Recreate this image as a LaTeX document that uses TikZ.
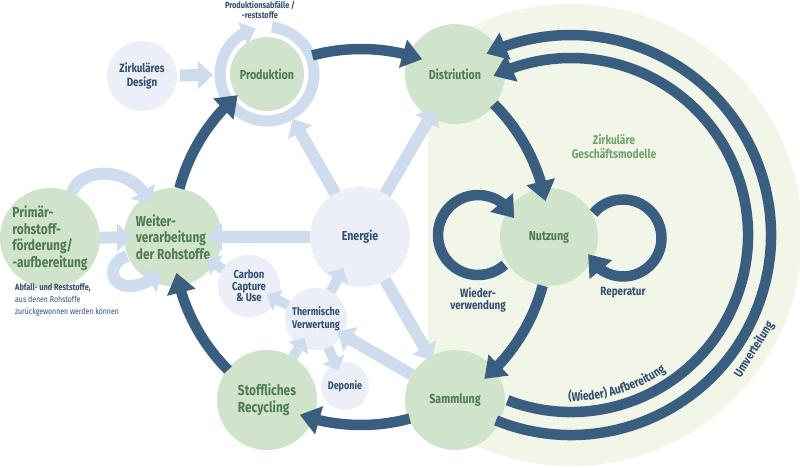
\documentclass[tikz,border=0pt]{standalone}
\usepackage{fontspec}
\setmainfont{Fira Sans}[FakeStretch=0.82]
\usetikzlibrary{arrows.meta,bending,calc,decorations.text}
\definecolor{darkarr}{HTML}{3A5E80}
\definecolor{tdark}{HTML}{2F4E6F}
\definecolor{gfill}{HTML}{CFE4CB}
\definecolor{gtext}{HTML}{4D7A4F}
\definecolor{glight}{HTML}{6FA46C}
\definecolor{lav}{HTML}{ECEFF7}
\definecolor{lblue}{HTML}{CDDDEE}
\definecolor{bgpale}{HTML}{F2F6E8}
\newcommand{\fsz}[2]{\bfseries\fontsize{#1}{#2}\selectfont}
\tikzset{
  gnode/.style={circle, fill=gfill, inner sep=0pt, text=gtext},
  lnode/.style={circle, fill=lav, inner sep=0pt, text=tdark},
  darr/.style={draw=darkarr, line width=10.5pt, -{Triangle[width=28pt,length=20pt]}},
  larr/.style={draw=lblue, line width=12pt, -{Triangle[width=27pt,length=15pt]}},
  larrs/.style={draw=lblue, line width=10pt, -{Triangle[width=23pt,length=12pt]}},
  lbl/.style={inner sep=0pt, text=tdark},
}
\begin{document}
\begin{tikzpicture}[x=1pt,y=1pt]
\useasboundingbox (0,0) rectangle (800,467);
\fill[white] (0,0) rectangle (800,467);
\coordinate (C) at (361,230);
\coordinate (O) at (571,232);
% pale background region
\begin{scope}
  \clip (428,0) rectangle (800,467);
  \fill[bgpale] (O) circle[radius=231];
\end{scope}
% nodes
\node[gnode, minimum size=74pt, font=\fsz{13}{15}] (Prod) at (267,393) {Produktion};
\node[gnode, minimum size=100pt, font=\fsz{13}{15}] (Dist) at (455,393) {Distriution};
\node[gnode, minimum size=98pt, font=\fsz{13}{15}] (Nutz) at (549,230) {Nutzung};
\node[gnode, minimum size=100pt, font=\fsz{13}{15}] (Samm) at (455,67) {Sammlung};
\node[gnode, minimum size=100pt, font=\fsz{14.5}{17}, align=left] (Recy) at (267,67) {Stoffliches\\Recycling};
\node[gnode, minimum size=98pt, font=\fsz{14.5}{16.5}, align=left] (Weit) at (173,230) {Weiter-\\verarbeitung\\der Rohstoffe};
\node[gnode, minimum size=100pt, font=\fsz{14.5}{16.5}, align=left] (Prim) at (50,229) {Primär-\\rohstoff-\\förderung/\\-aufbereitung};
\node[lnode, minimum size=100pt, font=\fsz{13}{15}] (Ener) at (360,230) {Energie};
\node[lnode, minimum size=62pt, font=\fsz{11.5}{11.5}, align=center] (CCU) at (249,181) {Carbon\\Capture\\\& Use};
\node[lnode, minimum size=62pt, font=\fsz{11}{13}, align=center] (Therm) at (316,148) {Thermische\\Verwertung};
\node[lnode, minimum size=48pt, font=\fsz{11}{13}] (Depo) at (345,81) {Deponie};
\node[lnode, minimum size=70pt, font=\fsz{12}{14}, align=center] (Design) at (142,391) {Zirkuläres\\Design};
% light arrows
\draw[larr] ($(Design)!38pt!(Prod)$) -- ($(Prod)!54pt!(Design)$);
\draw[draw=lblue, line width=11pt, -{Triangle[width=24pt,length=14pt]}] ([shift={(84:47)}]Prod.center) arc[start angle=84, end angle=-256, radius=47];
\draw[larr] ($(Ener)!50pt!(Prod)$) -- ($(Prod)!52pt!(Ener)$);
\draw[larr] ($(Ener)!50pt!(Dist)$) -- ($(Dist)!40pt!(Ener)$);
\draw[larr] ($(Ener)!50pt!(Weit)$) -- ($(Weit)!34pt!(Ener)$);
\draw[larr] ($(Ener)!50pt!(Samm)$) -- ($(Samm)!46pt!(Ener)$);
\draw[larr] ($(Prim)!50pt!(Weit)$) -- ($(Weit)!41pt!(Prim)$);
\draw[larrs] ($(Therm)!31pt!(Ener)$) -- ($(Ener)!35pt!(Therm)$);
\draw[larrs] ($(Therm)!31pt!(CCU)$) -- ($(CCU)!20pt!(Therm)$);
\draw[larrs] ($(CCU)!31pt!(Weit)$) -- ($(Weit)!40pt!(CCU)$);
\draw[larrs] ($(Recy)!50pt!(Therm)$) -- ($(Therm)!22pt!(Recy)$);
\draw[larrs] ($(Therm)!31pt!(Depo)$) -- ($(Depo)!17pt!(Therm)$);
\draw[larr] ($(Samm)!50pt!(Therm)$) -- ($(Therm)!25pt!(Samm)$);
\draw[larr] ($(Prim.center)+(22,45)$) .. controls ($(Prim.center)+(30,72)$) and ($(Weit.center)+(-40,72)$) .. ($(Weit.center)+(-22,33)$);
\draw[larr] ($(Weit.center)+(-46,-19)$) .. controls ($(Weit.center)+(-73,-28)$) and ($(Weit.center)+(-60,-70)$) .. ($(Weit.center)+(-11,-36)$);
% dark main cycle
\draw[darr] ([shift={(105:188)}]C) arc[start angle=105, end angle=71, radius=188];
\draw[darr] ([shift={(45:188)}]C) arc[start angle=45, end angle=11, radius=188];
\draw[darr] ([shift={(-15:188)}]C) arc[start angle=-15, end angle=-49, radius=188];
\draw[darr] ([shift={(-75:188)}]C) arc[start angle=-75, end angle=-109, radius=188];
\draw[darr] ([shift={(-135:188)}]C) arc[start angle=-135, end angle=-169, radius=188];
\draw[darr] ([shift={(165:188)}]C) arc[start angle=165, end angle=131, radius=188];
% outer arcs
\draw[darr] ([shift={(-111:177)}]O) arc[start angle=-111, end angle=116, radius=177];
\draw[darr] ([shift={(-112:200)}]O) arc[start angle=-112, end angle=115, radius=200];
% loops at Nutzung
\coordinate (LW) at (478,232);
\draw[darr] ([shift={(-48:40)}]LW) arc[start angle=-48, end angle=-335, radius=40];
\coordinate (LR) at (623,229);
\draw[darr] ([shift={(140:38.5)}]LR) arc[start angle=140, end angle=-155, radius=38.5];
% labels
\node[lbl, font=\fsz{9}{10}, align=center] (lAbf) at (260,457) {Produktionsabfälle /\\-reststoffe};
\node[inner sep=0pt, text=glight, font=\fsz{12.5}{14}, align=center] (lGes) at (614,320) {Zirkuläre\\Geschäftsmodelle};
\node[lbl, font=\fsz{12}{12.5}, align=center] (lWie) at (478,167) {Wieder-\\verwendung};
\node[lbl, font=\fsz{12}{13}] (lRep) at (623,174) {Reperatur};
\node[lbl, anchor=north west, align=left] (lRest) at (15,184) {{\fsz{9}{11}Abfall- und Reststoffe,}\\{\mdseries\fontsize{8.5}{11}\selectfont aus denen Rohstoffe}\\{\mdseries\fontsize{8.5}{11}\selectfont zurückgewonnen werden können}};
\path[decorate, decoration={text along path, text align=center, text color=tdark, text={|\fsz{12.5}{14}|(Wieder) Aufbereitung}}] ([shift={(-100:166)}]O) arc[start angle=-100, end angle=-46, radius=166];
\node[lbl, font=\fsz{12.5}{14}, rotate=58] (lUmv) at ([shift={(-32:216)}]O) {Umverteilung};
\end{tikzpicture}
\end{document}
